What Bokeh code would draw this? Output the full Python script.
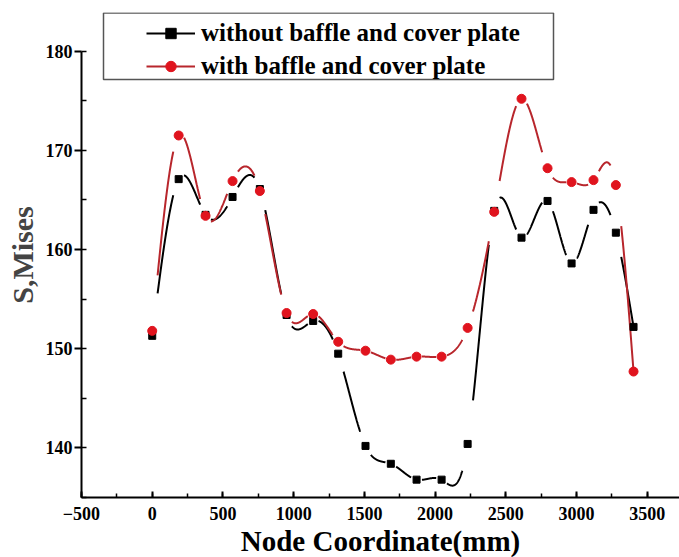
import numpy as np
from bokeh.plotting import figure
from bokeh.models import (Range1d, SingleIntervalTicker, Legend, LegendItem, Title)
from bokeh.embed import file_html
from bokeh.resources import INLINE

# ---- data ----
node_x = [0, 187, 377, 568, 761, 950, 1138, 1315, 1508, 1687, 1869, 2046,
          2230, 2418, 2611, 2795, 2965, 3120, 3278, 3403]
without_baffle = [151.3, 167.1, 163.5, 165.3, 166.1, 153.4, 152.8, 149.5, 140.2,
                  138.4, 136.8, 136.8, 140.4, 163.9, 161.2, 164.9, 158.6, 164.0,
                  161.7, 152.2]
with_baffle = [151.8, 171.5, 163.4, 166.9, 165.9, 153.6, 153.5, 150.7, 149.8,
               148.9, 149.2, 149.2, 152.1, 163.8, 175.2, 168.2, 166.8, 167.0,
               166.5, 147.7]
x_ticks_interval = 500
y_ticks_interval = 10
y_axis_bounds = (135, 180)
legend_labels = ["without baffle and cover plate", "with baffle and cover plate"]

SERIF = "Liberation Serif"

W, H = 679, 557
FL, FR, FT, FB = 81, 679, 12, 497          # frame edges in pixels
X0, X1 = -500, 3728
Y0, Y1 = 135, 183.9


def px_to_x(px):
    return X0 + (px - FL) * (X1 - X0) / (FR - FL)


def py_to_y(py):
    return Y0 + (FB - py) * (Y1 - Y0) / (FB - FT)


def natural_spline(x, y, n_per_seg=80, gap=38.0):
    """Natural cubic spline through the points, with small gaps near markers."""
    x = np.asarray(x, float)
    y = np.asarray(y, float)
    n = len(x)
    h = np.diff(x)
    A = np.zeros((n, n))
    b = np.zeros(n)
    A[0, 0] = 1
    A[-1, -1] = 1
    for i in range(1, n - 1):
        A[i, i - 1] = h[i - 1]
        A[i, i] = 2 * (h[i - 1] + h[i])
        A[i, i + 1] = h[i]
        b[i] = 3 * ((y[i + 1] - y[i]) / h[i] - (y[i] - y[i - 1]) / h[i - 1])
    c = np.linalg.solve(A, b)
    xs, ys = [], []
    for i in range(n - 1):
        bi = (y[i + 1] - y[i]) / h[i] - h[i] * (2 * c[i] + c[i + 1]) / 3
        di = (c[i + 1] - c[i]) / (3 * h[i])
        lo = x[i] + gap
        hi = x[i + 1] - (gap if i + 1 < n - 1 else 0)
        if hi <= lo:
            continue
        t = np.linspace(lo, hi, n_per_seg)
        dx = t - x[i]
        yy = y[i] + bi * dx + c[i] * dx ** 2 + di * dx ** 3
        xs.extend(t.tolist())
        ys.extend(yy.tolist())
        xs.append(np.nan)
        ys.append(np.nan)
    return xs, ys


p = figure(width=W, height=H, output_backend="svg", toolbar_location=None,
           x_range=Range1d(X0, X1), y_range=Range1d(Y0, Y1),
           min_border_left=FL, min_border_right=W - FR, min_border_top=FT,
           min_border_bottom=H - FB)
p.outline_line_color = None
p.xgrid.visible = False
p.ygrid.visible = False
p.background_fill_color = "white"

# axes
p.xaxis.ticker = SingleIntervalTicker(interval=x_ticks_interval, num_minor_ticks=2)
p.yaxis.ticker = SingleIntervalTicker(interval=y_ticks_interval, num_minor_ticks=2)
p.yaxis.bounds = y_axis_bounds
for ax in (p.xaxis[0], p.yaxis[0]):
    ax.axis_line_width = 2
    ax.axis_line_color = "black"
    ax.major_tick_line_width = 2
    ax.minor_tick_line_width = 1.5
    ax.major_tick_line_color = "black"
    ax.minor_tick_line_color = "black"
    ax.major_label_text_font = SERIF
    ax.major_label_text_font_style = "bold"
    ax.major_label_text_font_size = "18px"
    ax.major_label_text_color = "black"

p.xaxis.major_tick_in = 6
p.xaxis.major_tick_out = 0
p.xaxis.minor_tick_in = 4
p.xaxis.minor_tick_out = 0
p.xaxis.major_label_standoff = 9

p.yaxis.major_tick_in = 0
p.yaxis.major_tick_out = 7
p.yaxis.minor_tick_in = 5
p.yaxis.minor_tick_out = 0
p.yaxis.major_label_standoff = 2
p.yaxis.axis_label = "S,Mises"
p.yaxis.axis_label_text_font = SERIF
p.yaxis.axis_label_text_font_style = "bold"
p.yaxis.axis_label_text_font_size = "30px"
p.yaxis.axis_label_standoff = 4

# x axis label
xtitle = Title(text="Node Coordinate(mm)", align="center", offset=-4, standoff=0,
               text_font=SERIF, text_font_style="bold", text_font_size="29px",
               text_color="black")
p.add_layout(xtitle, "below")

black = "#000000"
red_line = "#b8262c"
red_mark = "#e0141e"

bx, by = natural_spline(node_x, without_baffle)
rx, ry = natural_spline(node_x, with_baffle)

l_black = p.line(bx, by, line_color=black, line_width=2)
l_red = p.line(rx, ry, line_color=red_line, line_width=2)
m_black = p.scatter(node_x, without_baffle, marker="square", size=7,
                    fill_color=black, line_color=black)
m_red = p.scatter(node_x, with_baffle, marker="circle", size=9,
                  fill_color=red_mark, line_color=red_mark)

# legend frame (pixel box 103..553 x 12.5..79 converted through the scales)
p.quad(left=[px_to_x(103)], right=[px_to_x(553)], top=[py_to_y(12.5)],
       bottom=[py_to_y(79)], fill_color="white", line_color="#555555",
       line_width=1.5)

legend = Legend(items=[LegendItem(label=legend_labels[0], renderers=[l_black, m_black]),
                       LegendItem(label=legend_labels[1], renderers=[l_red, m_red])],
                location=(146 - FL, FB - 80))
legend.label_text_font = SERIF
legend.label_text_font_style = "bold"
legend.label_text_font_size = "25px"
legend.label_text_color = "black"
legend.border_line_color = None
legend.background_fill_alpha = 0
legend.padding = 0
legend.margin = 0
legend.spacing = 5
legend.glyph_width = 49
legend.glyph_height = 26
legend.label_height = 26
legend.label_standoff = 6
p.add_layout(legend)

open("out.html", "w").write(file_html(p, INLINE))
